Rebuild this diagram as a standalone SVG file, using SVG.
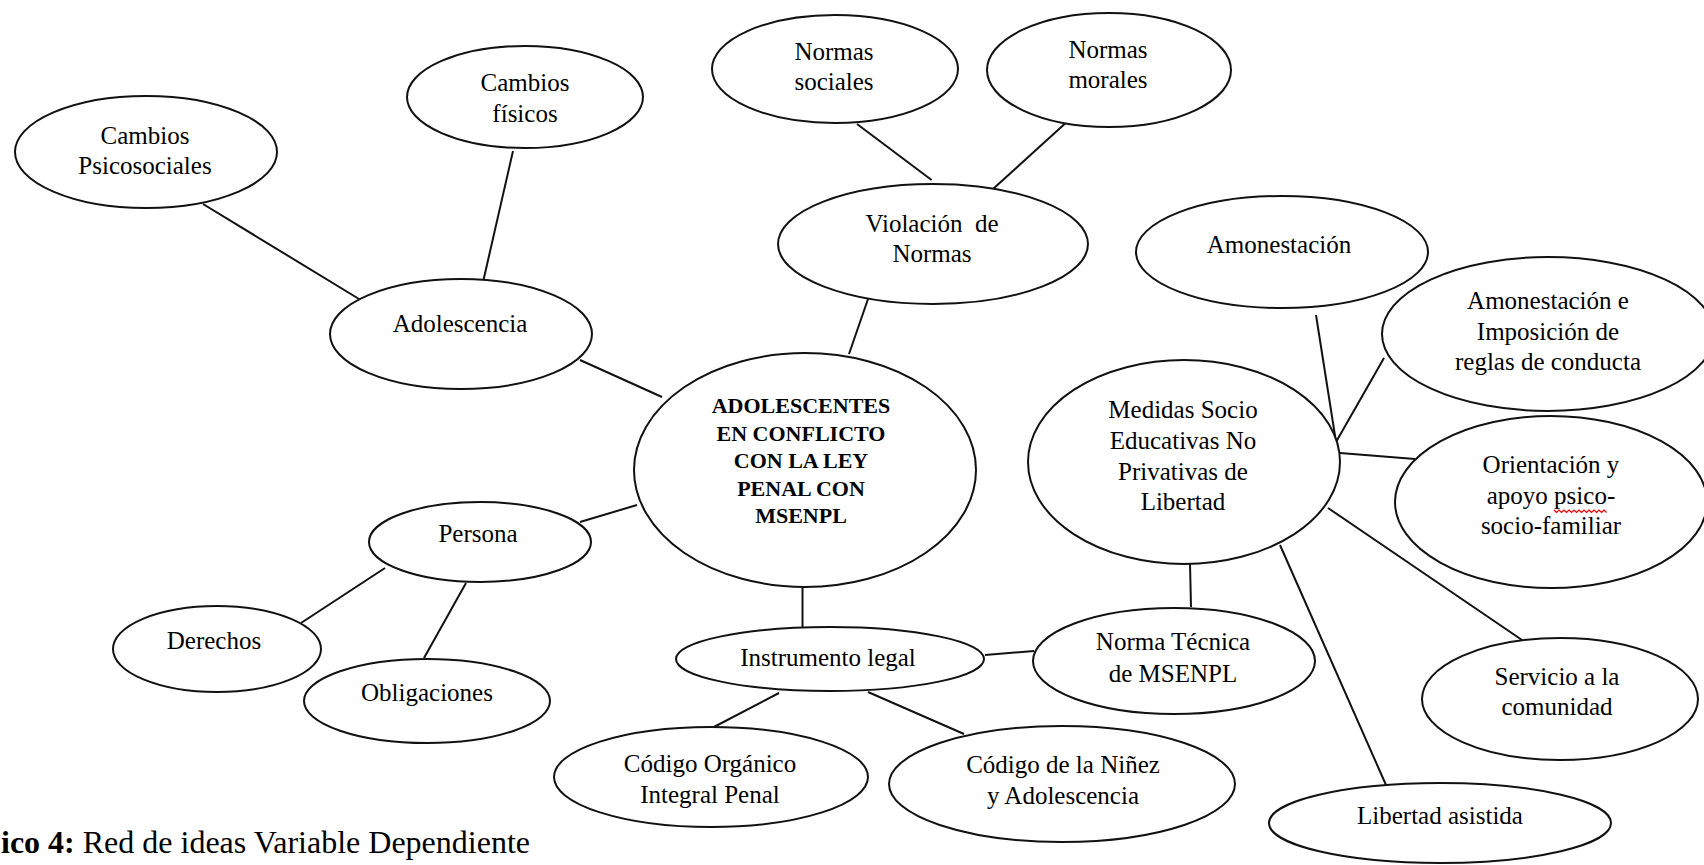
<svg xmlns="http://www.w3.org/2000/svg" width="1704" height="865" viewBox="0 0 1704 865">
<style>
.n{fill:#fff;stroke:#111;stroke-width:2}
.c line{stroke:#111;stroke-width:2}
text{font-family:"Liberation Serif","Times New Roman",serif;font-size:25px;fill:#000;text-anchor:middle}
.b{font-weight:bold;font-size:22px}
.cap{text-anchor:start;font-size:32px}
</style>
<rect width="1704" height="865" fill="#fff"/>
<g class="c" id="connectors">
<line x1="203" y1="204" x2="359" y2="299"/>
<line x1="513" y1="151" x2="483.5" y2="280"/>
<line x1="580" y1="360" x2="662" y2="397"/>
<line x1="857" y1="124" x2="931.6" y2="180"/>
<line x1="1069" y1="120" x2="993" y2="189"/>
<line x1="868" y1="299" x2="849" y2="354"/>
<line x1="580" y1="522" x2="637" y2="505"/>
<line x1="385" y1="568" x2="301" y2="623"/>
<line x1="466" y1="583" x2="424" y2="658"/>
<line x1="802.5" y1="588" x2="802.5" y2="627"/>
<line x1="779" y1="693" x2="712" y2="728"/>
<line x1="868" y1="692" x2="964" y2="734"/>
<line x1="985" y1="655" x2="1034" y2="651"/>
<line x1="1190" y1="563" x2="1191" y2="607"/>
<line x1="1316" y1="315" x2="1336" y2="442"/>
<line x1="1384" y1="358" x2="1336" y2="442"/>
<line x1="1340" y1="453" x2="1415" y2="459"/>
<line x1="1328" y1="508" x2="1522" y2="640"/>
<line x1="1280" y1="545" x2="1386" y2="785"/>
</g>
<g id="cambios-psicosociales"><ellipse class="n" cx="146" cy="152" rx="131" ry="56"/><text x="145" y="144">Cambios</text><text x="145" y="174">Psicosociales</text></g>
<g id="cambios-fisicos"><ellipse class="n" cx="525" cy="97" rx="118" ry="51"/><text x="525" y="91">Cambios</text><text x="525" y="122">físicos</text></g>
<g id="adolescencia"><ellipse class="n" cx="461" cy="334" rx="131" ry="55"/><text x="460" y="332">Adolescencia</text></g>
<g id="normas-sociales"><ellipse class="n" cx="835" cy="69" rx="123" ry="54"/><text x="834" y="60">Normas</text><text x="834" y="90">sociales</text></g>
<g id="normas-morales"><ellipse class="n" cx="1109" cy="70" rx="122" ry="57"/><text x="1108" y="58">Normas</text><text x="1108" y="88">morales</text></g>
<g id="violacion"><ellipse class="n" cx="933" cy="244" rx="155" ry="60"/><text x="932" y="232" xml:space="preserve">Violación  de</text><text x="932" y="262">Normas</text></g>
<g id="amonestacion"><ellipse class="n" cx="1282" cy="252" rx="146" ry="56"/><text x="1279" y="253">Amonestación</text></g>
<g id="amonestacion-imposicion"><ellipse class="n" cx="1548" cy="334" rx="166" ry="77"/><text x="1548" y="309">Amonestación e</text><text x="1548" y="340">Imposición de</text><text x="1548" y="370">reglas de conducta</text></g>
<g id="central"><ellipse class="n" cx="805" cy="470" rx="171" ry="117"/><text class="b" x="801" y="413">ADOLESCENTES</text><text class="b" x="801" y="441">EN CONFLICTO</text><text class="b" x="801" y="468">CON LA LEY</text><text class="b" x="801" y="496">PENAL CON</text><text class="b" x="801" y="523">MSENPL</text></g>
<g id="medidas"><ellipse class="n" cx="1184" cy="462" rx="156" ry="102"/><text x="1183" y="418">Medidas Socio</text><text x="1183" y="449">Educativas No</text><text x="1183" y="480">Privativas de</text><text x="1183" y="510">Libertad</text></g>
<g id="orientacion"><ellipse class="n" cx="1551" cy="502" rx="156" ry="86"/><text x="1551" y="473">Orientación y</text><text x="1551" y="504">apoyo psico-</text><text x="1551" y="534">socio-familiar</text><path d="M1554 510 l2.5 2.5 l2.5 -2.5 l2.5 2.5 l2.5 -2.5 l2.5 2.5 l2.5 -2.5 l2.5 2.5 l2.5 -2.5 l2.5 2.5 l2.5 -2.5 l2.5 2.5 l2.5 -2.5 l2.5 2.5 l2.5 -2.5 l2.5 2.5 l2.5 -2.5 l2.5 2.5 l2.5 -2.5 l2.5 2.5 l2.5 -2.5 l2.5 2.5" fill="none" stroke="#e00" stroke-width="1.2"/></g>
<g id="persona"><ellipse class="n" cx="480" cy="542" rx="111" ry="40"/><text x="478" y="542">Persona</text></g>
<g id="derechos"><ellipse class="n" cx="217" cy="649" rx="104" ry="43"/><text x="214" y="649">Derechos</text></g>
<g id="obligaciones"><ellipse class="n" cx="427" cy="701" rx="123" ry="42"/><text x="427" y="701">Obligaciones</text></g>
<g id="instrumento"><ellipse class="n" cx="830" cy="659" rx="154" ry="32"/><text x="828" y="666">Instrumento legal</text></g>
<g id="norma-tecnica"><ellipse class="n" cx="1174" cy="661" rx="141" ry="53"/><text x="1173" y="650">Norma Técnica</text><text x="1173" y="682">de MSENPL</text></g>
<g id="servicio"><ellipse class="n" cx="1560" cy="699" rx="138" ry="61"/><text x="1557" y="685">Servicio a la</text><text x="1557" y="715">comunidad</text></g>
<g id="codigo-organico"><ellipse class="n" cx="711" cy="777" rx="157" ry="50"/><text x="710" y="772">Código Orgánico</text><text x="710" y="803">Integral Penal</text></g>
<g id="codigo-ninez"><ellipse class="n" cx="1062" cy="784" rx="173" ry="58"/><text x="1063" y="773">Código de la Niñez</text><text x="1063" y="804">y Adolescencia</text></g>
<g id="libertad-asistida"><ellipse class="n" cx="1440" cy="823" rx="171" ry="40"/><text x="1440" y="824">Libertad asistida</text></g>
<text class="cap" x="1" y="853"><tspan font-weight="bold">ico 4:</tspan> Red de ideas Variable Dependiente</text>
</svg>
